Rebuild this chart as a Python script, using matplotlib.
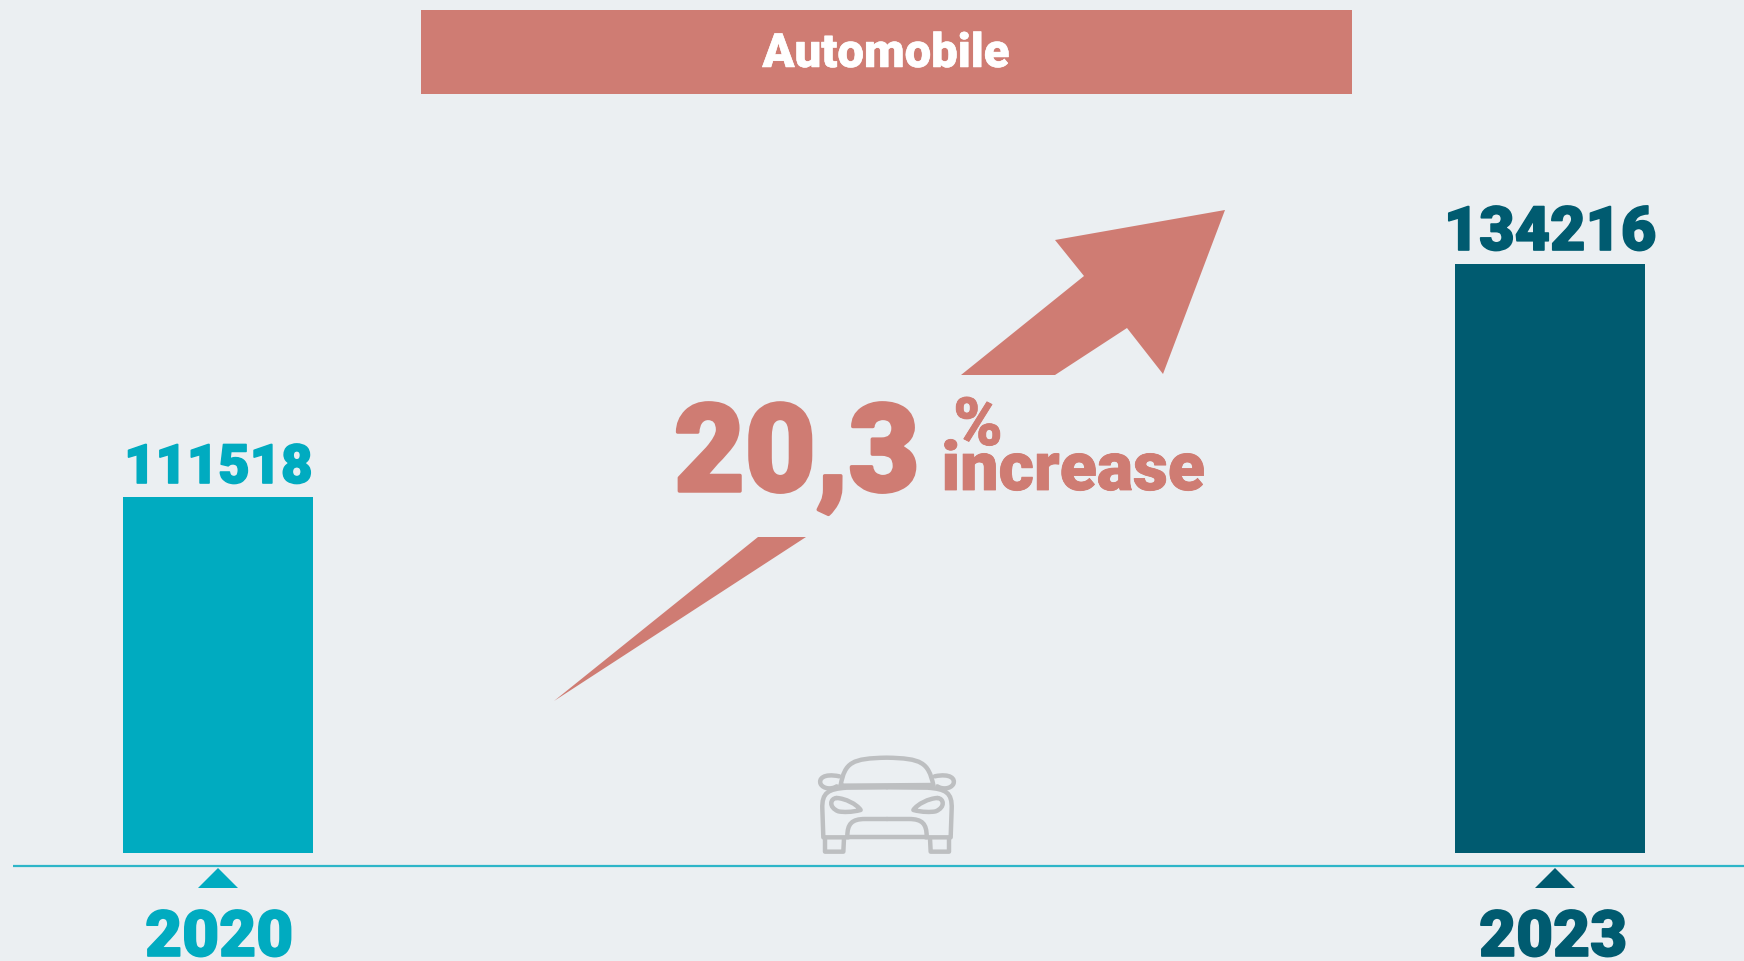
import matplotlib
matplotlib.use("Agg")
import matplotlib.pyplot as plt
import matplotlib.patheffects as pe
from matplotlib.path import Path
from matplotlib.patches import PathPatch, Polygon, Rectangle

YEARS = ["2020", "2023"]
VALUES = [111518, 134216]
BAR_COLORS = ["#00ABC0", "#005B70"]
TITLE = "Automobile"
PCT = "20,3"

BG = "#EBEFF2"
SALMON = "#CF7C73"
GREY = "#BDBFC1"
W, H = 1744, 962
FONT = "Roboto"

plt.rcParams["font.family"] = FONT

fig = plt.figure(figsize=(W / 100, H / 100), dpi=100, facecolor=BG)

# whole figure axes in pixels, y going down, for the decoration
deco = fig.add_axes([0, 0, 1, 1])
deco.set_xlim(0, W)
deco.set_ylim(H, 0)
deco.axis("off")

# the bars get their own axes, baseline is cut off in the original
bars = fig.add_axes([123 / W, 1 - 854 / H, (1645 - 123) / W, (854 - 265) / H])
bars.patch.set_alpha(0)
bars.axis("off")
bars.set_xlim(-0.0713, 1.0713)
bars.set_ylim(76800, VALUES[1])
bars.bar([0, 1], VALUES, width=0.1426, color=BAR_COLORS)


def label(x, y, s, size, color, ha="center", stroke=1.2):
    deco.text(x, y, s, fontsize=size, color=color, ha=ha, va="baseline", fontweight=900,
              path_effects=[pe.withStroke(linewidth=stroke, foreground=color)])


# header
deco.add_patch(Rectangle((421, 11), 931, 84, color=SALMON, lw=0))
label(886, 68, TITLE, 34, "white", stroke=0.4)

# axis line and ticks
deco.plot([13, W], [867, 867], color="#2DB5C8", lw=1.6, solid_capstyle="butt")
tick_x = [218, 1555]
year_x = [219, 1553]
for i in range(2):
    deco.add_patch(Polygon([(tick_x[i], 869), (tick_x[i] - 20, 889), (tick_x[i] + 20, 889)],
                           color=BAR_COLORS[i], lw=0))
    label(year_x[i], 957, YEARS[i], 46, BAR_COLORS[i])

# value labels
label(218, 484, str(VALUES[0]), 39, BAR_COLORS[0])
label(1550, 251, str(VALUES[1]), 44, BAR_COLORS[1])

# arrow, cut in two by the text
deco.add_patch(Polygon([(961, 376), (1055, 376), (1127, 329), (1163, 375), (1225, 211), (1055, 241), (1084, 277)],
                       color=SALMON, lw=0))
deco.add_patch(Polygon([(554, 702), (758, 538), (806, 538)], color=SALMON, lw=0))

# the increase text
label(674, 492, PCT, 88, SALMON, ha="left", stroke=2.5)
label(978, 446, "%", 48, SALMON, stroke=0.6)
label(1073, 491, "increase", 49, SALMON, stroke=0.6)


def car(codes_pts):
    verts, codes = [], []
    for c, pts in codes_pts:
        for p in pts:
            verts.append((790 + p[0] / 3, 730 + p[1] / 3))
            codes.append(c)
    deco.add_patch(PathPatch(Path(verts, codes), fc="none", ec=GREY, lw=3.2, capstyle="round", joinstyle="round"))


M, L, C = Path.MOVETO, Path.LINETO, Path.CURVE4


def flip(pts):
    return [(582 - x, y) for x, y in pts]


car([(M, [(152, 168)]), (C, [(165, 100), (185, 88), (290, 86)]), (C, [(395, 88), (415, 100), (430, 168)]),
     (L, [(152, 170)])])
sides = [
    [(M, [(148, 142)]), (C, [(100, 132), (85, 150), (92, 165)]), (C, [(100, 180), (125, 182), (140, 172)])],
    [(M, [(290, 175)]), (L, [(170, 176)]), (C, [(115, 180), (95, 190), (97, 240)]), (L, [(100, 325)]), (L, [(175, 325)])],
    [(M, [(105, 328)]), (L, [(105, 368)]), (L, [(160, 368)]), (L, [(162, 328)])],
    [(M, [(140, 207)]), (C, [(165, 208), (200, 225), (212, 243)]), (C, [(185, 250), (160, 250), (145, 247)]),
     (C, [(115, 235), (120, 208), (140, 207)])],
    [(M, [(172, 322)]), (C, [(172, 285), (185, 270), (225, 270)]), (L, [(291, 270)])],
]
for s in sides:
    car(s)
    car([(c, flip(p)) for c, p in s])
car([(M, [(170, 325)]), (L, [(412, 325)])])

fig.savefig("out.png", dpi=100, facecolor=BG)
